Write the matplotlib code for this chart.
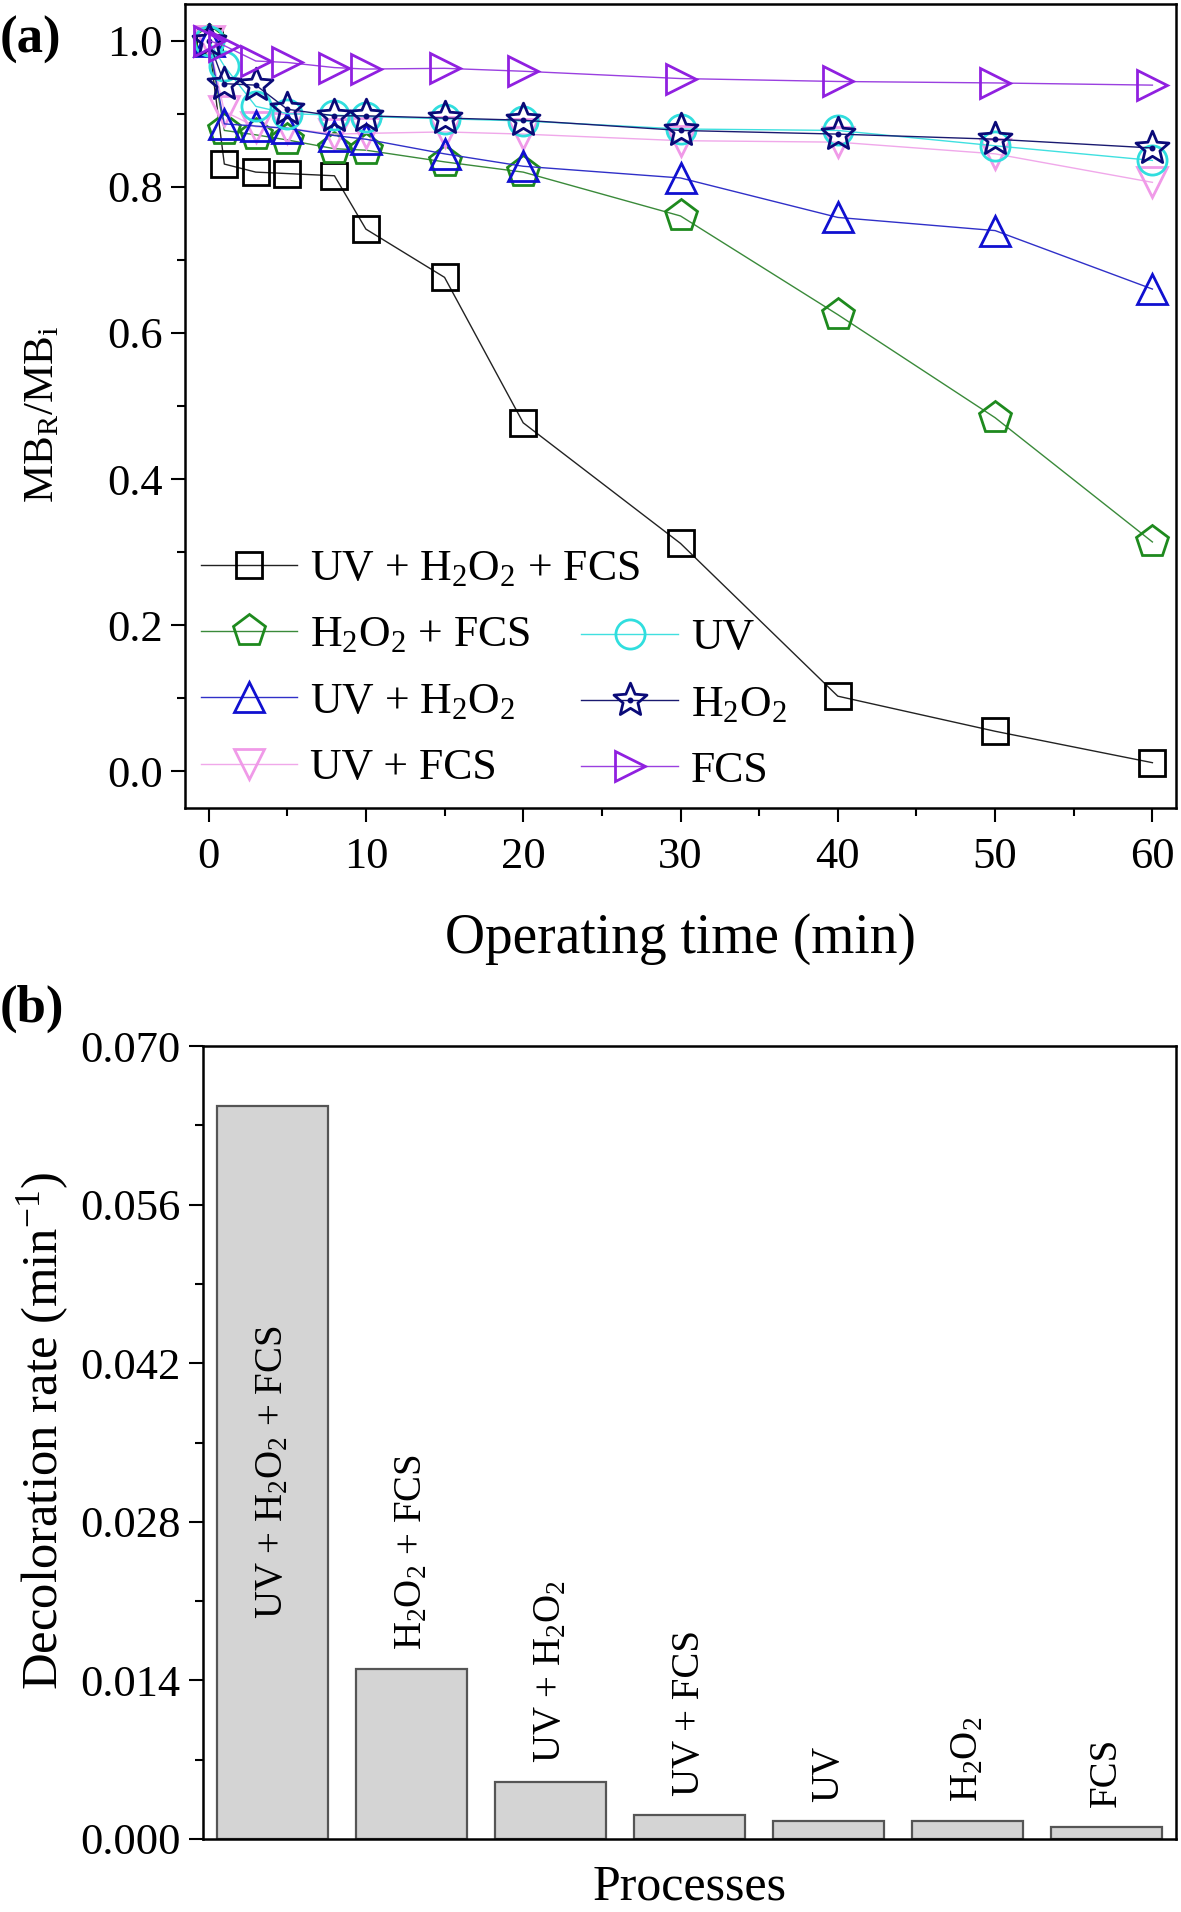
import matplotlib
matplotlib.use('Agg')
import matplotlib.pyplot as plt
from matplotlib.path import Path
from matplotlib.ticker import MultipleLocator, FormatStrFormatter

plt.rcParams['font.family'] = ['Liberation Serif', 'DejaVu Serif']
plt.rcParams['mathtext.fontset'] = 'custom'
plt.rcParams['mathtext.rm'] = 'Liberation Serif'
plt.rcParams['mathtext.it'] = 'Liberation Serif:italic'
plt.rcParams['mathtext.bf'] = 'Liberation Serif:bold'
plt.rcParams['mathtext.default'] = 'regular'

# ---------------- data: panel (a) ----------------
time_min = [0, 1, 3, 5, 8, 10, 15, 20, 30, 40, 50, 60]
uv_h2o2_fcs = [1.0, 0.831, 0.820, 0.818, 0.815, 0.742, 0.676, 0.477, 0.312, 0.103, 0.055, 0.012]
h2o2_fcs = [1.0, 0.877, 0.871, 0.864, 0.852, 0.850, 0.834, 0.820, 0.760, 0.625, 0.484, 0.314]
uv_h2o2 = [1.0, 0.886, 0.883, 0.880, 0.870, 0.865, 0.845, 0.828, 0.812, 0.758, 0.740, 0.660]
uv_fcs = [1.0, 0.903, 0.882, 0.880, 0.872, 0.873, 0.875, 0.872, 0.863, 0.861, 0.845, 0.806]
uv = [1.0, 0.965, 0.910, 0.900, 0.898, 0.896, 0.893, 0.890, 0.879, 0.877, 0.856, 0.836]
h2o2 = [1.0, 0.941, 0.939, 0.906, 0.897, 0.897, 0.894, 0.891, 0.877, 0.872, 0.865, 0.853]
fcs = [1.0, 0.993, 0.972, 0.970, 0.963, 0.961, 0.962, 0.958, 0.948, 0.944, 0.942, 0.939]

series_labels = ['UV + H$_2$O$_2$ + FCS', 'H$_2$O$_2$ + FCS', 'UV + H$_2$O$_2$',
                 'UV + FCS', 'UV', 'H$_2$O$_2$', 'FCS']

# ---------------- data: panel (b) ----------------
processes = ['UV + H$_2$O$_2$ + FCS', 'H$_2$O$_2$ + FCS', 'UV + H$_2$O$_2$',
             'UV + FCS', 'UV', 'H$_2$O$_2$', 'FCS']
rates = [0.0647, 0.0150, 0.0050, 0.0021, 0.0016, 0.0016, 0.0011]

# star marker with a small dot in the centre
star_dot = Path.make_compound_path(Path.unit_regular_star(5, 0.45),
                                   Path.circle((0, 0), 0.09))

W, H = 1181, 1912
fig = plt.figure(figsize=(W / 100, H / 100), dpi=100)

# panel (a) axes: pixel box
axa = fig.add_axes([185 / W, 1 - 808 / H, (1176 - 185) / W, (808 - 4) / H])

lw = 1.0
mew = 2.0
styles = [
    dict(marker='s', color='#000000', line='#222222', ms=19),
    dict(marker='p', color='#1e8a1e', line='#3a8a3a', ms=24),
    dict(marker='^', color='#1010d0', line='#3030c8', ms=22),
    dict(marker='v', color='#f09ae8', line='#f0a8ea', ms=22),
    dict(marker='o', color='#30dede', line='#40e0e0', ms=21),
    dict(marker=star_dot, color='#0a0a78', line='#1a1a70', ms=25),
    dict(marker='>', color='#9020e0', line='#9a40e0', ms=22),
]
series = [uv_h2o2_fcs, h2o2_fcs, uv_h2o2, uv_fcs, uv, h2o2, fcs]
draw_order = [0, 1, 3, 2, 4, 5, 6]
lines = [None] * 7
for z, i in enumerate(draw_order):
    st = styles[i]
    ln, = axa.plot(time_min, series[i], color=st['line'], lw=lw,
                   marker=st['marker'], ms=st['ms'], mfc='none',
                   mec=st['color'], mew=mew, zorder=3 + z,
                   label=series_labels[i])
    lines[i] = ln

axa.set_xlim(-1.5, 61.5)
axa.set_ylim(-0.05, 1.05)
axa.xaxis.set_major_locator(MultipleLocator(10))
axa.xaxis.set_minor_locator(MultipleLocator(5))
axa.yaxis.set_major_locator(MultipleLocator(0.2))
axa.yaxis.set_minor_locator(MultipleLocator(0.1))
axa.yaxis.set_major_formatter(FormatStrFormatter('%.1f'))
axa.tick_params(which='both', direction='out', top=False, right=False, width=1.5)
axa.tick_params(which='major', length=10, labelsize=32)
axa.tick_params(axis='x', which='major', pad=11)
axa.tick_params(axis='y', which='major', pad=6)
axa.tick_params(which='minor', length=6)
for sp in axa.spines.values():
    sp.set_linewidth(1.8)
axa.set_xlabel('Operating time (min)', fontsize=40, labelpad=26)
axa.set_ylabel('MB$_R$/MB$_i$', fontsize=31)
axa.yaxis.set_label_coords(-0.124, 0.49)

leg_kw = dict(frameon=False, fontsize=31.5, handlelength=2.2, handletextpad=0.3,
              labelspacing=0.6, borderpad=0, borderaxespad=0, loc='upper left')
leg1 = axa.legend(handles=[lines[0], lines[1], lines[2], lines[3]],
                  labels=series_labels[:4], bbox_to_anchor=(0.016, 0.322), **leg_kw)
axa.add_artist(leg1)
leg2 = axa.legend(handles=[lines[4], lines[5], lines[6]],
                  labels=series_labels[4:], bbox_to_anchor=(0.40, 0.236), **leg_kw)

# panel (b)
axb = fig.add_axes([203 / W, 1 - 1839 / H, (1176 - 203) / W, (1839 - 1046) / H])
pos = list(range(len(processes)))
bars = axb.bar(pos, rates, width=0.8, color='#d4d4d4', edgecolor='#555555',
               linewidth=1.6, zorder=2)
for p, v, lab in zip(pos, rates, processes):
    if v > 0.03:
        axb.text(p, v / 2, lab, rotation=90, ha='center', va='center', fontsize=28)
    else:
        axb.text(p, v + 0.0017, lab, rotation=90, ha='center', va='bottom', fontsize=28)
axb.set_xlim(-0.5, 6.5)
axb.set_ylim(0, 0.070)
axb.yaxis.set_major_locator(MultipleLocator(0.014))
axb.yaxis.set_minor_locator(MultipleLocator(0.007))
axb.yaxis.set_major_formatter(FormatStrFormatter('%.3f'))
axb.set_xticks([])
axb.tick_params(which='both', direction='out', top=False, right=False, width=1.5)
axb.tick_params(which='major', length=10, labelsize=32, pad=6)
axb.tick_params(which='minor', length=6)
for sp in axb.spines.values():
    sp.set_linewidth(1.8)
axb.set_xlabel('Processes', fontsize=36, labelpad=18)
axb.set_ylabel('Decoloration rate (min$^{-1}$)', fontsize=36.5)
axb.yaxis.set_label_coords(-0.136, 0.515)

fig.text(0.0, 1 - 40 / H, '(a)', fontsize=38, fontweight='bold', ha='left', va='center')
fig.text(0.0, 1 - 1009 / H, '(b)', fontsize=38, fontweight='bold', ha='left', va='center')

fig.savefig('out.png', dpi=100)
